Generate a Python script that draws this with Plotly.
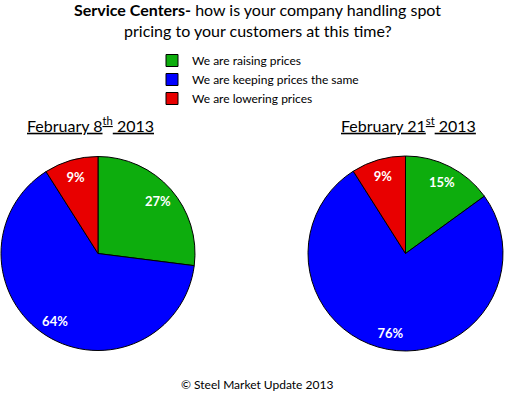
import plotly.graph_objects as go

categories = ["We are raising prices", "We are keeping prices the same", "We are lowering prices"]
feb8_values = [27, 64, 9]
feb21_values = [15, 76, 9]
colors = ["#0DAD0D", "#0000FF", "#E80000"]

FONT = "Lato, Open Sans, sans-serif"

left_dom = dict(x=[1/505, 195/505], y=[1-351/394, 1-156/394])
right_dom = dict(x=[308/505, 503/505], y=[1-351/394, 1-156/394])

fig = go.Figure()
base = dict(labels=categories, sort=False, direction="clockwise", rotation=0,
            marker=dict(colors=colors, line=dict(color="black", width=1)),
            textinfo="none", hoverinfo="label+value")
text_layer = dict(labels=categories, sort=False, direction="clockwise", rotation=0,
                  hole=0.65,
                  marker=dict(colors=["rgba(0,0,0,0)"] * 3, line=dict(width=0)),
                  texttemplate="<b>%{value}%</b>", textposition="inside",
                  insidetextorientation="auto",
                  textfont=dict(color="white", size=13, family=FONT),
                  hoverinfo="skip", showlegend=False)

for vals, dom, name, leg in [(feb8_values, left_dom, "February 8th 2013", True),
                             (feb21_values, right_dom, "February 21st 2013", False)]:
    fig.add_trace(go.Pie(values=vals, domain=dom, name=name, showlegend=leg, **base))
    fig.add_trace(go.Pie(values=vals, domain=dom, name=name + " labels", **text_layer))

ann = [
    dict(x=0.51, y=1 - 10/394, text="<b>Service Centers-</b> how is your company handling spot",
         font=dict(size=16, family=FONT, color="black")),
    dict(x=0.51, y=1 - 30/394, text="pricing to your customers at this time?",
         font=dict(size=16, family=FONT, color="black")),
    dict(x=90/505, y=1 - 124/394, text="<u>February 8<sup>th</sup> 2013</u>",
         font=dict(size=16, family=FONT, color="black")),
    dict(x=408/505, y=1 - 124/394, text="<u>February 21<sup>st</sup> 2013</u>",
         font=dict(size=16, family=FONT, color="black")),
    dict(x=257/505, y=1 - 384/394, text="© Steel Market Update 2013",
         font=dict(size=12, family=FONT, color="black")),
]
for a in ann:
    a.update(xref="paper", yref="paper", showarrow=False, xanchor="center", yanchor="middle")

fig.update_layout(
    width=505, height=394,
    margin=dict(l=0, r=0, t=0, b=0),
    paper_bgcolor="white", plot_bgcolor="white",
    annotations=ann,
    legend=dict(x=152/505, y=1 - 46/394, xanchor="left", yanchor="top",
                font=dict(size=12, family=FONT, color="black"),
                bgcolor="rgba(0,0,0,0)", tracegroupgap=0),
)
fig.write_html("out.html", config={"displayModeBar": False},
               post_script="document.body.style.margin='0';document.body.style.overflow='hidden';")
